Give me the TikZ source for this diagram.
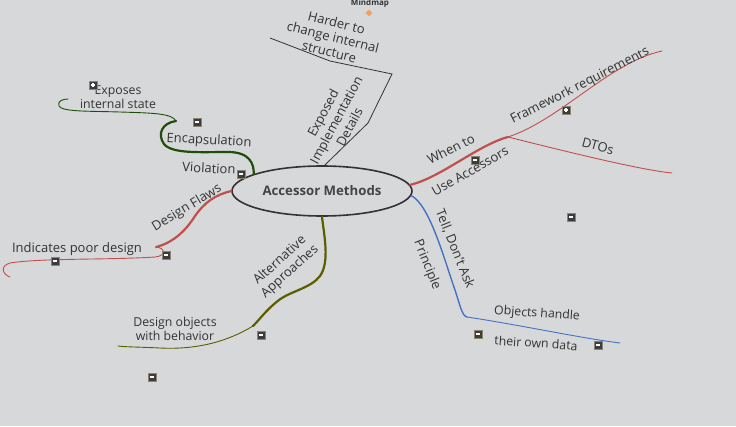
\documentclass[tikz,border=0pt]{standalone}
\usepackage{fontspec}
\setmainfont{Open Sans}
\usepackage{tikz}
\usetikzlibrary{positioning,shapes,calc}

\definecolor{bgcol}{HTML}{D7D8DA}
\definecolor{txtcol}{HTML}{333333}
\definecolor{rootcol}{HTML}{444444}
\definecolor{flawred}{HTML}{C0504D}
\definecolor{encgreen}{HTML}{1F4E0A}
\definecolor{altolive}{HTML}{5C5C00}
\definecolor{tellblue}{HTML}{4472C4}
\definecolor{boxfill}{HTML}{3C3C3C}
\definecolor{boxedge}{HTML}{8C8470}
\definecolor{markorange}{HTML}{F5A060}

\tikzset{
  lbl/.style={text=txtcol, font=\fontsize{13}{15}\selectfont, align=center, inner sep=0pt},
  small lbl/.style={lbl, font=\fontsize{12.3}{14.5}\selectfont},
  thick branch/.style={line width=2.2pt, line cap=round},
  thin branch/.style={line width=0.9pt, line cap=round},
  toggle/.style={draw=boxedge, fill=boxfill, minimum size=8pt, inner sep=0pt, line width=0.8pt},
  togglemin/.style={toggle, path picture={
      \draw[white, line width=1.2pt] ([xshift=2pt]path picture bounding box.west) -- ([xshift=-2pt]path picture bounding box.east);}},
  toggleplus/.style={toggle, path picture={
      \draw[white, line width=1.2pt] ([xshift=2pt]path picture bounding box.west) -- ([xshift=-2pt]path picture bounding box.east);
      \draw[white, line width=1.2pt] ([yshift=2pt]path picture bounding box.south) -- ([yshift=-2pt]path picture bounding box.north);}},
}

\begin{document}
\begin{tikzpicture}[x=1pt, y=-1pt]
\useasboundingbox[fill=bgcol] (0,0) rectangle (736,426);

% root
\node[draw=txtcol, ellipse, line width=1.6pt, minimum width=180pt, minimum height=50pt, text=rootcol,
      font=\bfseries\fontsize{13.2}{15}\selectfont] (root) at (322,191) {Accessor Methods};
\node[font=\bfseries\fontsize{8}{9}\selectfont, text=txtcol, inner sep=0pt] (title) at (370,3) {Mindmap};
\node[diamond, fill=markorange, minimum size=7pt, inner sep=0pt] (mark) at (369,13) {};

% exposed implementation details
\coordinate (exp1) at (368,123);
\coordinate (exp2) at (392,74);
\coordinate (exp3) at (330,61);
\coordinate (exp4) at (270,38);
\draw[txtcol, line width=0.8pt] (root.84) -- (exp1) -- (exp2) -- (exp3) -- (exp4);
\node[lbl, rotate=62] (expl) at (336,120) {Exposed\\Implementation\\Details};
\node[lbl, rotate=-14] (hard) at (333,37) {Harder to\\change internal\\structure};

% encapsulation violation
\coordinate (enc1) at (176,121);
\coordinate (enc2) at (68,99);
\draw[encgreen, thick branch] (root.166) .. controls (254,164) and (250,152) .. (228,152)
   .. controls (200,152) and (172,154) .. (164,144) .. controls (157,134) and (162,123) .. (enc1);
\draw[encgreen, thin branch] (enc1) .. controls (172,113) and (150,113) .. (120,112)
   .. controls (90,111) and (62,112) .. (59,106) .. controls (57,101) and (63,99) .. (enc2);
\node[lbl, rotate=-3] (encl) at (209,141) {Encapsulation};
\node[lbl, rotate=-3] (viol) at (209,168) {Violation};
\node[small lbl] (expo) at (118,97) {Exposes\\internal state};

% design flaws
\coordinate (fl1) at (156,247);
\coordinate (fl2) at (10,277);
\draw[flawred, thick branch] (root.west) .. controls (215,195) and (205,202) .. (195,216)
   .. controls (185,232) and (172,243) .. (fl1);
\draw[flawred, thin branch] (fl1) .. controls (166,248) and (166,256) .. (155,257)
   .. controls (110,260) and (40,258) .. (10,263) .. controls (0,266) and (2,274) .. (fl2);
\node[lbl, rotate=31] (flaw) at (187,208) {Design Flaws};
\node[lbl] (poor) at (77,249) {Indicates poor design};

% alternative approaches
\coordinate (alt1) at (253,326);
\coordinate (alt2) at (118,346);
\draw[altolive, thick branch] (root.south) .. controls (324,235) and (330,262) .. (320,276)
   .. controls (311,288) and (291,291) .. (279,300) .. controls (266,310) and (261,318) .. (alt1);
\draw[altolive, thin branch] (alt1) .. controls (230,340) and (200,350) .. (160,348)
   .. controls (140,347) and (125,347) .. (alt2);
\node[lbl, rotate=42] (alte) at (285,266) {Alternative\\Approaches};
\node[small lbl] (beh) at (175,329) {Design objects\\with behavior};

% when to use accessors
\coordinate (use1) at (508,137);
\coordinate (use2) at (662,51);
\coordinate (use3) at (672,173);
\draw[flawred, thick branch] (root.4) .. controls (440,178) and (478,145) .. (use1);
\draw[flawred, thin branch] (use1) .. controls (560,120) and (610,62) .. (use2);
\draw[flawred, thin branch] (use1) .. controls (560,150) and (640,170) .. (use3);
\node[lbl, rotate=27] (when) at (451,149) {When to};
\node[lbl, rotate=30] (usea) at (470,171) {Use Accessors};
\node[lbl, rotate=27] (frame) at (580,86) {Framework requirements};
\node[lbl, rotate=-15] (dto) at (598,146) {DTOs};

% tell, don't ask
\coordinate (tell1) at (467,317);
\coordinate (tell2) at (620,343);
\draw[tellblue, thick branch, line width=1.4pt] (root.-3) .. controls (430,205) and (445,262) .. (455,290)
   .. controls (460,305) and (462,316) .. (tell1);
\draw[tellblue, thin branch] (tell1) .. controls (520,325) and (580,338) .. (tell2);
\node[lbl, rotate=-68] (tell) at (455,249) {Tell, Don't Ask};
\node[lbl, rotate=-68] (prin) at (427,265) {Principle};
\node[small lbl, rotate=-4] (obj) at (537,314) {Objects handle};
\node[small lbl, rotate=-4] (own) at (536,343) {their own data};

% toggles
\foreach \x/\y [count=\i] in {197/122, 241/174, 166/255, 55/261, 261/335, 152/377,
                              475/160, 571/217, 478/334, 598/345}
  \node[togglemin] (tg\i) at (\x,\y) {};
\node[toggleplus] (tgexpo) at (93,85) {};
\node[toggleplus] (tgframe) at (566,110) {};
\end{tikzpicture}
\end{document}
